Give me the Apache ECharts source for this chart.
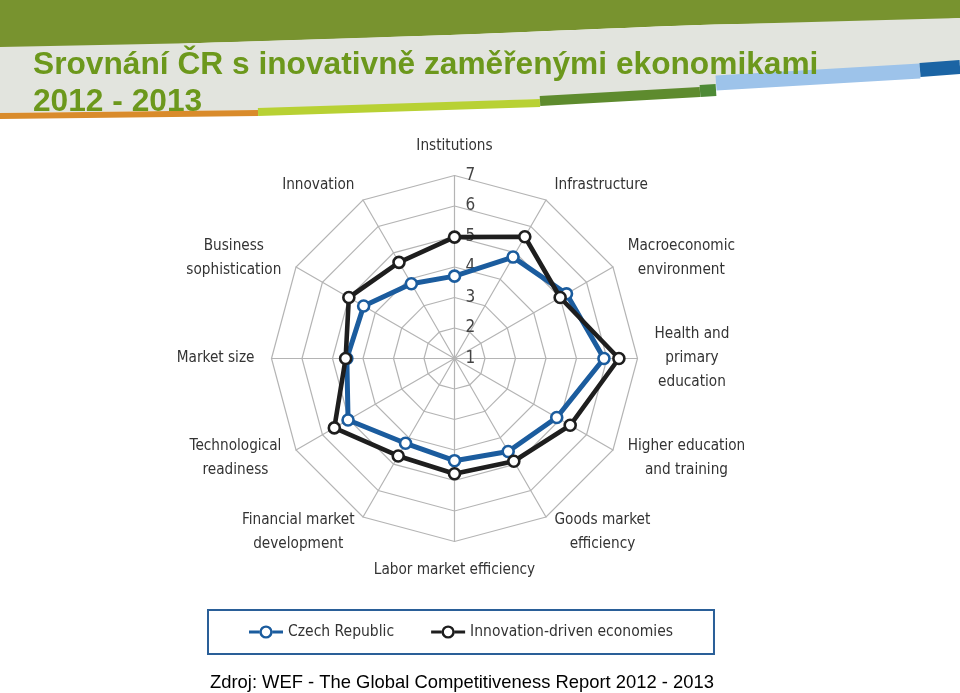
<!DOCTYPE html>
<html><head><meta charset="utf-8">
<script src="https://cdn.jsdelivr.net/npm/echarts@6/dist/echarts.min.js"></script>
<style>html,body{margin:0;padding:0;background:#fff}#c{width:960px;height:693px}</style>
</head><body><div id="c"></div>
<script>
// Categories clockwise from the top, as in the picture
const categories = ['Institutions','Infrastructure','Macroeconomic\nenvironment','Health and\nprimary\neducation','Higher education\nand training','Goods market\nefficiency','Labor market efficiency','Financial market\ndevelopment','Technological\nreadiness','Market size','Business\nsophistication','Innovation'];
const czechRepublic    = [3.70,4.84,5.24,5.90,4.87,4.52,4.35,4.21,5.03,4.53,4.44,3.83];
const innovationDriven = [4.98,5.61,5.00,6.39,5.38,4.89,4.78,4.69,5.55,4.57,5.00,4.64];
const tickLabels = ['1','2','3','4','5','6','7'];
const seriesNames = ['Czech Republic','Innovation-driven economies'];
const titleText = 'Srovnání ČR s inovativně zaměřenými ekonomikami\n2012 - 2013';
const sourceText = 'Zdroj: WEF - The Global Competitiveness Report 2012 - 2013';

// ECharts radar runs counter-clockwise; reorder so the picture stays clockwise
const ccw = a => [a[0]].concat(a.slice(1).reverse());

const BLUE = '#1B5C9E', BLACK = '#1E1E1E';
const NARROW = '"DejaVu Sans Condensed","Liberation Sans Narrow",sans-serif';
const legendIcon = 'path://M0 5.6L10.6 5.6L10.6 8.4L0 8.4Z M23.4 5.6L34 5.6L34 8.4L23.4 8.4Z M23.6 7A6.6 6.6 0 1 0 10.4 7A6.6 6.6 0 1 0 23.6 7Z M21.2 7A4.2 4.2 0 1 1 12.8 7A4.2 4.2 0 1 1 21.2 7Z';

const chart = echarts.init(document.getElementById('c'), null, {renderer: 'canvas'});
const cx = 454.5, cy = 358.5, R = 183;

chart.setOption({
  backgroundColor: '#fff',
  animation: false,
  graphic: [
    {type:'polygon', z:-10, silent:true, shape:{smooth:0.3, points:[[0,0],[960,0],[960,18],[700,25],[450,35],[200,43],[0,47]]}, style:{fill:'#78932F'}},
    {type:'polygon', z:-10, silent:true, shape:{points:[[0,47],[200,43],[450,35],[700,25],[960,18],[960,64],[920,68],[716,84],[700,88],[540,99],[258,110],[0,113]]}, style:{fill:'#E2E4DE'}},
    {type:'polyline', z:-9, silent:true, shape:{points:[[0,116],[258,113]]}, style:{stroke:'#D98B2B', lineWidth:6}},
    {type:'polyline', z:-9, silent:true, shape:{points:[[258,112],[540,103]]}, style:{stroke:'#B8D134', lineWidth:8}},
    {type:'polyline', z:-9, silent:true, shape:{points:[[540,101],[700,92]]}, style:{stroke:'#5E8B2E', lineWidth:10}},
    {type:'polyline', z:-9, silent:true, shape:{points:[[700,91],[716,90]]}, style:{stroke:'#4E8A36', lineWidth:12}},
    {type:'polyline', z:-9, silent:true, shape:{points:[[716,83],[920,71]]}, style:{stroke:'#9DC3EA', lineWidth:15}},
    {type:'polyline', z:-9, silent:true, shape:{points:[[920,70],[960,67]]}, style:{stroke:'#1B64A4', lineWidth:14}}
  ],
  title: [
    {text: titleText, left: 33, top: 47, padding: 0,
     textStyle: {fontFamily: '"Liberation Sans",Arial,sans-serif', fontWeight: 'bold', fontSize: 31.7, lineHeight: 37, color: '#6C981C'}},
    {text: sourceText, left: 210, top: 674, padding: 0,
     textStyle: {fontFamily: '"Liberation Sans",Arial,sans-serif', fontWeight: 'normal', fontSize: 18.4, color: '#000'}}
  ],
  legend: {
    left: 208, top: 610, padding: [14, 41, 14, 41],
    borderColor: '#2A5F98', borderWidth: 2,
    itemWidth: 34, itemHeight: 14, itemGap: 37,
    icon: legendIcon,
    itemStyle: {borderWidth: 0},
    textStyle: {fontFamily: NARROW, fontSize: 15.5, color: '#333'},
    data: [
      {name: seriesNames[0], itemStyle: {color: BLUE}},
      {name: seriesNames[1], itemStyle: {color: BLACK}}
    ]
  },
  radar: {
    center: [cx, cy], radius: R, startAngle: 90, splitNumber: 6, shape: 'polygon',
    nameGap: 17,
    indicator: ccw(categories).map(n => ({name: n, min: 1, max: 7})),
    axisName: {
      color: '#333', fontFamily: NARROW, fontSize: 15.2,
      formatter: v => v.split('\n').map(l => '{c|' + l + '}').join('\n'),
      rich: {c: {align: 'center', fontFamily: NARROW, fontSize: 15.2, lineHeight: 24, color: '#333'}}
    },
    splitLine: {lineStyle: {color: '#B4B4B4', width: 1.2}},
    splitArea: {show: false},
    axisLine: {lineStyle: {color: '#B4B4B4', width: 1.2}},
    axisTick: {show: false},
    axisLabel: {show: false}
  },
  polar: {center: [cx, cy], radius: R},
  angleAxis: {type: 'value', min: 0, max: 360, startAngle: 90, show: false},
  radiusAxis: {
    type: 'value', min: 1, max: 7, interval: 1,
    axisLine: {show: false}, axisTick: {show: false}, splitLine: {show: false},
    axisLabel: {show: true, color: '#444', fontFamily: NARROW, fontSize: 17, margin: -11, align: 'left',
      padding: [0, 0, 5, 0],
      formatter: v => tickLabels[Math.round(v) - 1]}
  },
  series: [{
    type: 'radar',
    symbol: 'circle', symbolSize: 11,
    data: [
      {name: seriesNames[0], value: ccw(czechRepublic),
       lineStyle: {color: BLUE, width: 5},
       itemStyle: {color: '#fff', borderColor: BLUE, borderWidth: 2.6}},
      {name: seriesNames[1], value: ccw(innovationDriven),
       lineStyle: {color: BLACK, width: 4.6},
       itemStyle: {color: '#fff', borderColor: BLACK, borderWidth: 2.6}}
    ]
  }]
});
</script></body></html>
